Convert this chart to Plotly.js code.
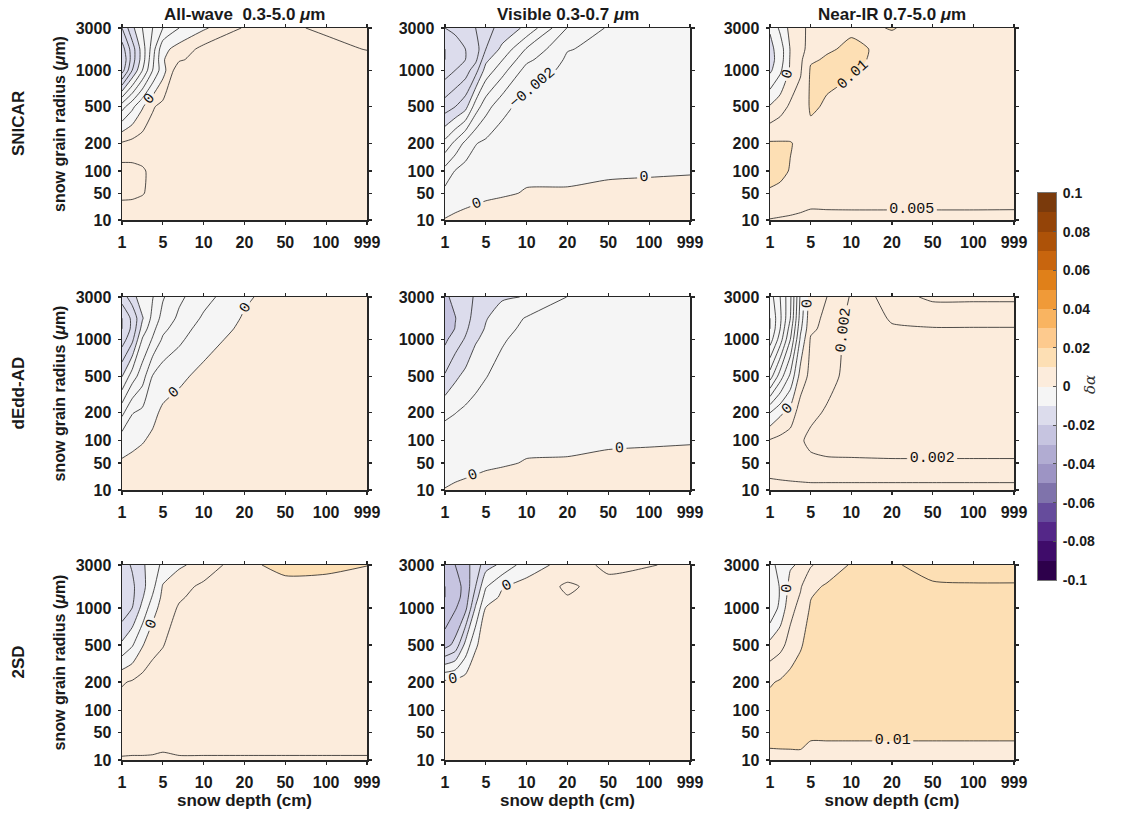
<!DOCTYPE html>
<html><head><meta charset="utf-8">
<script src="https://cdn.plot.ly/plotly-3.0.1.min.js"></script>
<style>html,body{margin:0;padding:0;background:#fff}#chart{width:1124px;height:816px}</style>
</head><body><div id="chart"></div>
<script>
// ---------- axes / labels ----------
const depthTicks = ['1','5','10','20','50','100','999'];
const depthTickVals = [1,5,10,20,50,100,999];
const radiusTicks = ['10','50','100','200','500','1000','3000'];
const radiusTickVals = [10,50,100,200,500,1000,3000];
const radiusTickPos = [0,0.14,0.255,0.40,0.59,0.78,1];
const depthGrid = [1,2,3,4,5,7,10,20,50,100,999];
const radiusGrid = [10,50,100,200,500,1000,1500,2000,3000];
const rowNames = ['SNICAR','dEdd-AD','2SD'];
const colNames = ['All-wave  0.3-5.0 <i>μ</i>m','Visible 0.3-0.7 <i>μ</i>m','Near-IR 0.7-5.0 <i>μ</i>m'];
const lineSteps = [[0.002,0.002,0.005],[0.002,0.005,0.001],[0.005,0.005,0.005]];

// colour bands, from -0.1 up to 0.1 in steps of 0.01
const bandLevels = [-0.1,-0.09,-0.08,-0.07,-0.06,-0.05,-0.04,-0.03,-0.02,-0.01,0,0.01,0.02,0.03,0.04,0.05,0.06,0.07,0.08,0.09];
const bandColors = ['#2d004b','#3f0c6a','#542788','#664c9c','#7f73ab','#9d94c4','#b1acd2','#c6c4e0','#dcdcec','#f5f5f5',
                    '#fcecdc','#fddfb4','#fdca8e','#f9b461','#f09a38','#e08019','#c8650e','#ad5208','#944408','#7a3a0c'];
const cbTickVals = [-0.1,-0.08,-0.06,-0.04,-0.02,0,0.02,0.04,0.06,0.08,0.1];
const cbTickText = ['-0.1','-0.08','-0.06','-0.04','-0.02','0','0.02','0.04','0.06','0.08','0.1'];

// ---------- data: rows = radius (10 .. 3000), cols = depth (1 .. 999) ----------
const zSnicarAll = [
 [0.0026,0.0027,0.0029,0.0030,0.0030,0.0030,0.0030,0.0030,0.0030,0.0030,0.0030],
 [0.0045,0.0044,0.0041,0.0036,0.0032,0.0030,0.0030,0.0030,0.0030,0.0030,0.0030],
 [0.0048,0.0046,0.0042,0.0036,0.0032,0.0030,0.0030,0.0030,0.0030,0.0030,0.0030],
 [0.0022,0.0026,0.0030,0.0031,0.0031,0.0030,0.0030,0.0030,0.0030,0.0030,0.0030],
 [-0.0048,-0.0025,-0.0002,0.0018,0.0026,0.0030,0.0031,0.0031,0.0031,0.0031,0.0031],
 [-0.0170,-0.0120,-0.0080,-0.0040,-0.0008,0.0035,0.0032,0.0031,0.0031,0.0031,0.0031],
 [-0.0180,-0.0130,-0.0090,-0.0045,-0.0002,0.0017,0.0030,0.0031,0.0031,0.0030,0.0028],
 [-0.0170,-0.0130,-0.0090,-0.0050,-0.0006,0.0008,0.0026,0.0030,0.0030,0.0027,0.0019],
 [-0.0140,-0.0105,-0.0080,-0.0060,-0.0040,-0.0020,-0.0003,0.0022,0.0024,0.0016,0.0014]
];
const zSnicarVis = [
 [0.0001,0.0004,0.0006,0.0008,0.0010,0.0011,0.0012,0.0013,0.0013,0.0014,0.0015],
 [-0.0014,-0.0011,-0.0008,-0.0006,-0.0004,-0.0002,0.0001,0.0002,0.0004,0.0005,0.0006],
 [-0.0033,-0.0019,-0.0012,-0.0009,-0.0006,-0.0004,-0.0003,-0.0005,-0.00026,-0.0002,-0.00013],
 [-0.0074,-0.0055,-0.0035,-0.0021,-0.0016,-0.0010,-0.0007,-0.0008,-0.0006,-0.0005,-0.0004],
 [-0.0130,-0.0120,-0.0107,-0.0070,-0.0048,-0.0026,-0.0012,-0.0011,-0.0009,-0.0008,-0.0007],
 [-0.0170,-0.0160,-0.0150,-0.0128,-0.0092,-0.0068,-0.0032,-0.0015,-0.0012,-0.0010,-0.0009],
 [-0.0180,-0.0170,-0.0160,-0.0145,-0.0105,-0.0081,-0.0045,-0.0017,-0.0013,-0.0011,-0.0010],
 [-0.0180,-0.0170,-0.0160,-0.0150,-0.0120,-0.0095,-0.0058,-0.0021,-0.0015,-0.0012,-0.0010],
 [-0.0160,-0.0155,-0.0150,-0.0140,-0.0125,-0.0115,-0.0095,-0.0039,-0.0018,-0.0014,-0.0012]
];
const zSnicarNir = [
 [0.0048,0.0045,0.0042,0.0038,0.0035,0.0035,0.0035,0.0035,0.0035,0.0035,0.0035],
 [0.0095,0.0092,0.0088,0.0082,0.0072,0.0074,0.0075,0.0075,0.0075,0.0075,0.0074],
 [0.0115,0.0108,0.0098,0.0090,0.0078,0.0078,0.0077,0.0076,0.0076,0.0076,0.0075],
 [0.0105,0.0104,0.0102,0.0092,0.0085,0.0085,0.0080,0.0078,0.0077,0.0077,0.0076],
 [0.0005,0.0030,0.0058,0.0072,0.0105,0.0096,0.0088,0.0082,0.0080,0.0078,0.0077],
 [-0.0110,-0.0060,0.0008,0.0045,0.0105,0.0108,0.0103,0.0087,0.0082,0.0080,0.0078],
 [-0.0120,-0.0075,0.0005,0.0040,0.0095,0.0104,0.0106,0.0090,0.0084,0.0081,0.0079],
 [-0.0115,-0.0075,0.0003,0.0030,0.0075,0.0096,0.0106,0.0092,0.0086,0.0082,0.0080],
 [-0.0094,-0.0040,0.0015,0.0045,0.0055,0.0075,0.0095,0.0101,0.0092,0.0085,0.0082]
];
const zDeddAll = [
 [0.0010,0.0010,0.0010,0.0010,0.0010,0.0010,0.0010,0.0010,0.0010,0.0010,0.0010],
 [0.0002,0.0004,0.0006,0.0007,0.0008,0.0009,0.0010,0.0010,0.0010,0.0010,0.0010],
 [-0.00075,-0.0004,-0.0001,0.0003,0.0006,0.0008,0.0009,0.0010,0.0010,0.0010,0.0010],
 [-0.0045,-0.0021,-0.0015,-0.0004,0.0003,0.0006,0.0008,0.0009,0.0010,0.0010,0.0010],
 [-0.0101,-0.0070,-0.0049,-0.0019,-0.0009,-0.0003,0.0004,0.0008,0.0010,0.0010,0.0010],
 [-0.0150,-0.0125,-0.0078,-0.0058,-0.0037,-0.0024,-0.0006,0.0006,0.0010,0.0010,0.0010],
 [-0.0160,-0.0135,-0.0092,-0.0066,-0.0045,-0.0030,-0.0011,0.0004,0.0010,0.0010,0.0010],
 [-0.0160,-0.0135,-0.0102,-0.0074,-0.0053,-0.0036,-0.0017,0.0002,0.0010,0.0010,0.0010],
 [-0.0130,-0.0110,-0.0085,-0.0081,-0.0062,-0.0044,-0.0027,-0.0003,0.0010,0.0010,0.0010]
];
const zDeddVis = [
 [0.0001,0.0004,0.0006,0.0008,0.0010,0.0011,0.0012,0.0013,0.0013,0.0014,0.0015],
 [-0.0012,-0.0010,-0.0008,-0.0006,-0.0004,-0.0002,0.0001,0.0002,0.0004,0.0005,0.0006],
 [-0.0025,-0.0020,-0.0017,-0.0014,-0.0010,-0.0007,-0.0004,-0.0005,-0.00026,-0.0002,-0.00013],
 [-0.0060,-0.0051,-0.0040,-0.0032,-0.0024,-0.0016,-0.0010,-0.0009,-0.0006,-0.0005,-0.0004],
 [-0.0145,-0.0110,-0.0087,-0.0066,-0.0052,-0.0033,-0.0019,-0.0013,-0.0009,-0.0008,-0.0007],
 [-0.0210,-0.0175,-0.0145,-0.0105,-0.0088,-0.0055,-0.0032,-0.0018,-0.0012,-0.0010,-0.0009],
 [-0.0230,-0.0198,-0.0160,-0.0120,-0.0096,-0.0066,-0.0038,-0.0020,-0.0013,-0.0011,-0.0010],
 [-0.0230,-0.0202,-0.0165,-0.0135,-0.0103,-0.0078,-0.0046,-0.0024,-0.0015,-0.0012,-0.0010],
 [-0.0210,-0.0185,-0.0165,-0.0145,-0.0120,-0.0105,-0.0098,-0.0049,-0.0022,-0.0016,-0.0013]
];
const zDeddNir = [
 [0.0007,0.0007,0.0007,0.0007,0.0007,0.0007,0.0007,0.0007,0.0007,0.0007,0.0007],
 [0.0014,0.0015,0.0016,0.0017,0.0018,0.0018,0.0018,0.0018,0.0018,0.0018,0.0018],
 [0.0011,0.0013,0.0015,0.0019,0.0022,0.0025,0.0026,0.0028,0.0028,0.0028,0.0028],
 [-0.0010,-0.0002,0.0004,0.0015,0.0018,0.0021,0.0026,0.0028,0.0028,0.0028,0.0028],
 [-0.0055,-0.0035,-0.0018,0.0004,0.0013,0.0017,0.0023,0.0028,0.0028,0.0028,0.0028],
 [-0.0085,-0.0065,-0.0040,-0.0008,0.0011,0.0015,0.0023,0.0029,0.0029,0.0029,0.0029],
 [-0.0090,-0.0070,-0.0045,-0.0012,0.0008,0.0013,0.0023,0.0029,0.00295,0.00295,0.00295],
 [-0.0090,-0.0072,-0.0050,-0.0015,0.0007,0.0012,0.0023,0.0031,0.0033,0.0033,0.0033],
 [-0.0085,-0.0070,-0.0052,-0.0018,0.0006,0.0010,0.0021,0.0036,0.0042,0.0042,0.0042]
];
const z2sdAll = [
 [0.0046,0.0045,0.0045,0.0044,0.0040,0.0045,0.0045,0.0045,0.0045,0.0045,0.0045],
 [0.0075,0.0075,0.0075,0.0075,0.0075,0.0075,0.0075,0.0075,0.0075,0.0075,0.0075],
 [0.0075,0.0076,0.0077,0.0077,0.0077,0.0077,0.0077,0.0077,0.0077,0.0077,0.0077],
 [0.0045,0.0055,0.0068,0.0073,0.0075,0.0077,0.0077,0.0077,0.0077,0.0077,0.0077],
 [-0.0090,-0.0055,-0.0004,0.0035,0.0048,0.0072,0.0077,0.0077,0.0077,0.0077,0.0077],
 [-0.0185,-0.0150,-0.0085,-0.0022,0.0022,0.0055,0.0075,0.0077,0.0078,0.0078,0.0078],
 [-0.0190,-0.0160,-0.0105,-0.0045,0.0013,0.0044,0.0068,0.0078,0.0079,0.0079,0.0079],
 [-0.0190,-0.0160,-0.0115,-0.0065,0.0004,0.0033,0.0060,0.0078,0.0080,0.0080,0.0080],
 [-0.0170,-0.0145,-0.0105,-0.0084,-0.0035,-0.0008,0.0019,0.0085,0.0120,0.0115,0.0101]
];
const z2sdVis = [
 [0.0030,0.0030,0.0030,0.0030,0.0030,0.0030,0.0030,0.0030,0.0030,0.0030,0.0030],
 [0.0030,0.0030,0.0030,0.0030,0.0030,0.0030,0.0030,0.0030,0.0030,0.0030,0.0030],
 [0.0030,0.0030,0.0030,0.0030,0.0030,0.0030,0.0030,0.0030,0.0030,0.0030,0.0030],
 [0.0010,0.0015,0.0022,0.0028,0.0030,0.0030,0.0030,0.0030,0.0030,0.0030,0.0030],
 [-0.0220,-0.0185,-0.0085,-0.0005,0.0020,0.0028,0.0030,0.0030,0.0030,0.0030,0.0030],
 [-0.0290,-0.0255,-0.0215,-0.0093,0.0002,0.0018,0.0030,0.0030,0.0030,0.0030,0.0030],
 [-0.0300,-0.0270,-0.0230,-0.0125,-0.0025,0.0008,0.0025,0.0048,0.0030,0.0030,0.0030],
 [-0.0300,-0.0270,-0.0235,-0.0150,-0.0055,-0.0003,0.0015,0.0058,0.0030,0.0030,0.0030],
 [-0.0270,-0.0250,-0.0215,-0.0180,-0.0120,-0.0089,-0.0022,0.0017,0.0065,0.0052,0.0042]
];
const z2sdNir = [
 [0.0085,0.0085,0.0085,0.0085,0.0065,0.0065,0.0065,0.0065,0.0065,0.0065,0.0065],
 [0.0120,0.0122,0.0123,0.0124,0.0115,0.0115,0.0115,0.0115,0.0115,0.0115,0.0115],
 [0.0120,0.0125,0.0127,0.0128,0.0128,0.0130,0.0130,0.0130,0.0130,0.0130,0.0130],
 [0.0095,0.0105,0.0118,0.0125,0.0128,0.0130,0.0130,0.0130,0.0132,0.0133,0.0133],
 [0.0015,0.0035,0.0068,0.0095,0.0120,0.0130,0.0130,0.0132,0.0134,0.0135,0.0135],
 [-0.0095,-0.0035,0.0035,0.0065,0.0105,0.0125,0.0130,0.0133,0.0137,0.0138,0.0138],
 [-0.0098,-0.0045,0.0025,0.0055,0.0098,0.0120,0.0130,0.0134,0.0140,0.0142,0.0142],
 [-0.0095,-0.0045,0.0015,0.0045,0.0090,0.0105,0.0125,0.0135,0.0145,0.0147,0.0147],
 [-0.0070,-0.0030,-0.0005,0.0006,0.0045,0.0075,0.0104,0.0145,0.0165,0.0165,0.0165]
];
const panelData = [[zSnicarAll,zSnicarVis,zSnicarNir],[zDeddAll,zDeddVis,zDeddNir],[z2sdAll,z2sdVis,z2sdNir]];

// ---------- scales (tick values -> axis positions) ----------
function piecewise(v, vals, pos){
  for(let i=0;i<vals.length-1;i++){
    if(v<=vals[i+1]) return pos[i]+(v-vals[i])/(vals[i+1]-vals[i])*(pos[i+1]-pos[i]);
  }
  return pos[pos.length-1];
}
const depthTickPos = depthTicks.map((_,i)=>i);
const xGrid = depthGrid.map(d=>piecewise(d, depthTickVals, depthTickPos));
const yGrid = radiusGrid.map(r=>piecewise(r, radiusTickVals, radiusTickPos));

// colourscale: fill sampled at band mid-levels -> piecewise constant scale
const nB = bandColors.length; // 20
const fillColors = [bandColors[0]].concat(bandColors).concat([bandColors[nB-1]]); // 22
const cscale = [];
for(let k=0;k<fillColors.length;k++){
  const a = k===0?0:(k-0.5)/21, b = k===fillColors.length-1?1:(k+0.5)/21;
  cscale.push([a,fillColors[k]]); cscale.push([b,fillColors[k]]);
}

// ---------- layout geometry (pixels) ----------
const W=1124,H=816;
const colPx = [[122,367],[445,690],[770,1014]];
const rowPx = [[28,220],[297,490],[565,760]];

const FONT='Liberation Sans, Arial, sans-serif';
const traces=[]; const layout={
  width:W,height:H,margin:{l:0,r:0,t:0,b:0},paper_bgcolor:'#fff',plot_bgcolor:'#fff',
  showlegend:false,bargap:0,annotations:[]
};
const axCommon = {showline:true,mirror:'ticks',linecolor:'#262626',linewidth:1.5,ticks:'outside',ticklen:3,
  tickwidth:1.2,tickcolor:'#262626',showgrid:false,zeroline:false,
  tickfont:{family:FONT,size:16,color:'#1a1a1a',weight:'bold'}};

for(let r=0;r<3;r++){
  for(let c=0;c<3;c++){
    const n=r*3+c+1, sfx = n===1?'':String(n);
    const z = panelData[r][c];
    traces.push({type:'contour',x:xGrid,y:yGrid,z:z,xaxis:'x'+sfx,yaxis:'y'+sfx,
      autocontour:false,contours:{start:-0.1,end:0.1,size:0.01,coloring:'fill',showlines:false},
      colorscale:cscale,showscale:false,line:{width:0,smoothing:0.6},hoverinfo:'skip'});
    traces.push({type:'contour',x:xGrid,y:yGrid,z:z,xaxis:'x'+sfx,yaxis:'y'+sfx,
      autocontour:false,contours:{start:-0.1,end:0.1,size:lineSteps[r][c],coloring:'none',showlabels:true,
        labelfont:{family:'Liberation Mono, Courier New, monospace',size:15,color:'#111'},labelformat:'.3~f'},
      showscale:false,line:{width:0.8,color:'#222',smoothing:0.6},hoverinfo:'skip'});
    layout['xaxis'+sfx]=Object.assign({},axCommon,{domain:[colPx[c][0]/W,colPx[c][1]/W],anchor:'y'+sfx,
      range:[0,6],tickvals:depthTickPos,ticktext:depthTicks,ticklabelstandoff:4,
      title: r===2?{text:'snow depth (cm)',font:{family:FONT,size:17,color:'#1a1a1a',weight:'bold'},standoff:3}:{text:''}});
    layout['yaxis'+sfx]=Object.assign({},axCommon,{domain:[1-rowPx[r][1]/H,1-rowPx[r][0]/H],anchor:'x'+sfx,
      range:[0,1],tickvals:radiusTickPos,ticktext:radiusTicks,ticklabelstandoff:3,
      title: c===0?{text:'snow grain radius (<i>μ</i>m)',font:{family:FONT,size:16,color:'#1a1a1a',weight:'bold'},standoff:6}:{text:''}});
  }
}
// column titles
for(let c=0;c<3;c++){
  layout.annotations.push({text:'<b>'+colNames[c]+'</b>',xref:'paper',yref:'paper',
    x:(colPx[c][0]+colPx[c][1])/2/W,y:1-14/H,showarrow:false,xanchor:'center',yanchor:'middle',
    font:{family:FONT,size:17,color:'#1a1a1a'}});
}
// row labels
for(let r=0;r<3;r++){
  layout.annotations.push({text:'<b>'+rowNames[r]+'</b>',xref:'paper',yref:'paper',textangle:-90,
    x:18/W,y:1-((rowPx[r][0]+rowPx[r][1])/2)/H,showarrow:false,xanchor:'center',yanchor:'middle',
    font:{family:FONT,size:17,color:'#1a1a1a'}});
}
// colour bar as stacked bars
traces.push({type:'bar',x:bandLevels.map(()=>0),y:bandLevels.map(()=>0.01),base:bandLevels,
  marker:{color:bandColors,line:{width:0}},width:1,xaxis:'x10',yaxis:'y10',hoverinfo:'skip'});
layout.xaxis10={domain:[1038/W,1056/W],anchor:'y10',range:[-0.5,0.5],showline:true,mirror:true,linecolor:'#777',
  linewidth:1,showticklabels:false,ticks:'',showgrid:false,zeroline:false};
layout.yaxis10={domain:[1-580/H,1-193/H],anchor:'x10',side:'right',range:[-0.1,0.1],showline:true,mirror:true,
  linecolor:'#777',linewidth:1,ticks:'inside',ticklen:3,tickcolor:'#555',showgrid:false,zeroline:false,
  tickvals:cbTickVals,ticktext:cbTickText,ticklabelstandoff:3,
  tickfont:{family:FONT,size:14,color:'#1a1a1a',weight:'bold'}};
layout.annotations.push({text:'<i>δα</i>',xref:'paper',yref:'paper',x:1090/W,y:1-385/H,textangle:-90,
  showarrow:false,xanchor:'center',yanchor:'middle',font:{family:'DejaVu Serif, Liberation Serif, serif',size:15,color:'#333'}});

Plotly.newPlot('chart',traces,layout,{displayModeBar:false,staticPlot:true});
</script>
</body></html>
